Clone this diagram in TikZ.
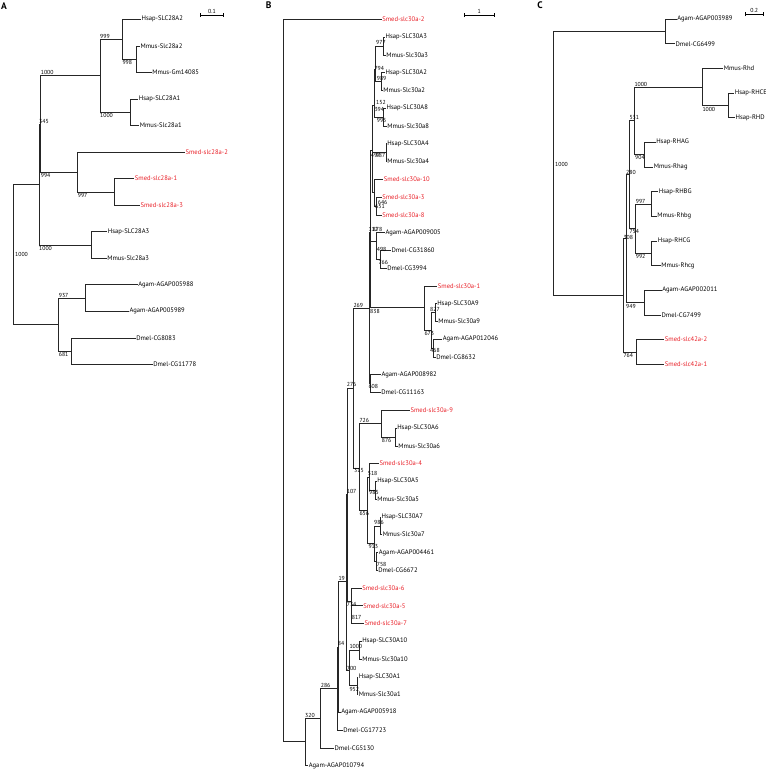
\documentclass[tikz,border=0pt]{standalone}
\usepackage{fontspec}
\setmainfont{PT Sans}
\usepackage{tikz}
\usetikzlibrary{arrows.meta}
\definecolor{smedred}{RGB}{232,30,38}

\begin{document}
\begin{tikzpicture}[
  x=1pt, y=-1pt,
  branch/.style={line width=0.55pt, draw=black!85},
  leaf/.style={anchor=west, inner sep=0.4pt, font=\fontsize{6.6}{7.5}\selectfont},
  smed/.style={leaf, text=smedred}, % Planarian genes in red
  boot/.style={anchor=west, inner sep=0pt, font=\fontsize{5.8}{6.5}\selectfont},
  panel/.style={font=\fontsize{9.5}{10}\selectfont\bfseries},
  scalebar/.style={line width=0.55pt, {Bar[width=4pt]}-{Bar[width=4pt]}}
]
  \useasboundingbox (0,0) rectangle (766,769);

  % ======================= PANEL A =======================
  \node[panel] (pA) at (4,6) {A};
  \coordinate (sbA1) at (200,15);
  \coordinate (sbA2) at (224,15);
  \draw[scalebar] (sbA1) -- (sbA2);
  \node[boot, anchor=south] (sbAt) at (212,13.5) {0.1};

  % --- internal nodes ---
  \coordinate (aRoot) at (13.7,254.4);
  \coordinate (aS) at (39,184.4);
  \coordinate (aQ) at (40.7,123.8);
  \coordinate (aP4) at (100,75.7);
  \coordinate (aP2) at (122.3,39.2);
  \coordinate (aP1) at (136.7,59.1);
  \coordinate (aP3) at (130,112.2);
  \coordinate (aT) at (77.7,171.9);
  \coordinate (aU) at (114.3,191.8);
  \coordinate (aV) at (91.7,244.9);
  \coordinate (aW) at (58.7,324.5);
  \coordinate (aX) at (85.3,298.0);
  \coordinate (aY) at (71.7,351.1);

  % --- leaves ---
  \node[leaf] (aHsapA2) at (141,19.3) {Hsap-SLC28A2};
  \node[leaf] (aMmusA2) at (140,45.8) {Mmus-Slc28a2};
  \node[leaf] (aMmusGm) at (151.7,72.4) {Mmus-Gm14085};
  \node[leaf] (aHsapA1) at (138.3,98.9) {Hsap-SLC28A1};
  \node[leaf] (aMmusA1) at (139.3,125.5) {Mmus-Slc28a1};
  \node[smed] (aSmed2) at (185,152.0) {Smed-slc28a-2};
  \node[smed] (aSmed1) at (134.3,178.5) {Smed-slc28a-1};
  \node[smed] (aSmed3) at (140,205.1) {Smed-slc28a-3};
  \node[leaf] (aHsapA3) at (107.3,231.6) {Hsap-SLC28A3};
  \node[leaf] (aMmusA3) at (106.7,258.2) {Mmus-Slc28a3};
  \node[leaf] (aAgam88) at (137.7,284.7) {Agam-AGAP005988};
  \node[leaf] (aAgam89) at (129,311.2) {Agam-AGAP005989};
  \node[leaf] (aDmel83) at (135.7,337.8) {Dmel-CG8083};
  \node[leaf] (aDmel78) at (152.7,364.3) {Dmel-CG11778};

  % --- branches ---
  \draw[branch] (aRoot) |- (aS) (aRoot) |- (aW);
  \draw[branch] (aS) |- (aQ) (aS) |- (aV);
  \draw[branch] (aQ) |- (aP4) (aQ) |- (aT);
  \draw[branch] (aP4) |- (aP2) (aP4) |- (aP3);
  \draw[branch] (aP2) |- (aHsapA2) (aP2) |- (aP1);
  \draw[branch] (aP1) |- (aMmusA2) (aP1) |- (aMmusGm);
  \draw[branch] (aP3) |- (aHsapA1) (aP3) |- (aMmusA1);
  \draw[branch] (aT) |- (aSmed2) (aT) |- (aU);
  \draw[branch] (aU) |- (aSmed1) (aU) |- (aSmed3);
  \draw[branch] (aV) |- (aHsapA3) (aV) |- (aMmusA3);
  \draw[branch] (aW) |- (aX) (aW) |- (aY);
  \draw[branch] (aX) |- (aAgam88) (aX) |- (aAgam89);
  \draw[branch] (aY) |- (aDmel83) (aY) |- (aDmel78);

  % --- bootstrap values ---
  \node[boot] (bsA1) at (15,254) {1000};
  \node[boot] (bsA2) at (39,121) {345};
  \node[boot] (bsA3) at (40.7,72.7) {1000};
  \node[boot] (bsA4) at (100,36) {999};
  \node[boot] (bsA5) at (122.3,62.7) {998};
  \node[boot] (bsA6) at (100,115.7) {1000};
  \node[boot] (bsA7) at (40.7,175.3) {994};
  \node[boot] (bsA8) at (77.7,195.7) {997};
  \node[boot] (bsA9) at (39,248.3) {1000};
  \node[boot] (bsA10) at (58.7,295.7) {937};
  \node[boot] (bsA11) at (58.7,354) {681};

  % ======================= PANEL B =======================
  \node[panel] (pB) at (268.7,5.5) {B};
  \coordinate (sbB1) at (464.3,15);
  \coordinate (sbB2) at (494.3,15);
  \draw[scalebar] (sbB1) -- (sbB2);
  \node[boot, anchor=south] (sbBt) at (479.3,13.5) {1};

  % --- internal nodes ---
  \coordinate (bRoot) at (283.3,380.5);
  \coordinate (bZ1) at (305,741.7);
  \coordinate (bZ2) at (320.7,718.3);
  \coordinate (bZ3) at (337.7,688.3);
  \coordinate (bZ4) at (338.5,647);
  \coordinate (bZ5) at (346.7,581);
  \coordinate (bZ6) at (347.2,494);
  \coordinate (bZ7) at (349.3,670);
  \coordinate (b276) at (353.5,388);
  \coordinate (b269) at (369.5,308.3);
  \coordinate (bXa) at (370.5,232.5);
  \coordinate (bTop) at (372.5,150);
  \coordinate (bB328) at (374.5,105);
  \coordinate (bB32) at (375.5,69);
  \coordinate (bA3) at (383.3,46);
  \coordinate (bA2) at (381,81.5);
  \coordinate (bA8) at (383.3,117);
  \coordinate (bA4) at (386,152.6);
  \coordinate (bC1) at (374.3,192);
  \coordinate (bS38) at (376.7,205.9);
  \coordinate (bD2) at (376,241);
  \coordinate (bD1) at (380,259.2);
  \coordinate (b838) at (424.3,307.7);
  \coordinate (b673) at (431,330);
  \coordinate (b827) at (435.7,312.5);
  \coordinate (b468) at (433.3,348);
  \coordinate (b608) at (370.5,383.6);
  \coordinate (b315) at (359.3,468.3);
  \coordinate (b726) at (381.7,423.3);
  \coordinate (b876) at (395.7,436.9);
  \coordinate (b656) at (367.5,510);
  \coordinate (b518) at (369,476.8);
  \coordinate (b985) at (375.7,490.2);
  \coordinate (b913) at (374.3,543.3);
  \coordinate (b986) at (380,525.8);
  \coordinate (b758) at (376,561.3);
  \coordinate (b734) at (351,601);
  \coordinate (b817) at (351.7,614.6);
  \coordinate (bN1000) at (359.3,650.2);
  \coordinate (bN952) at (357.3,685.7);

  % --- leaves ---
  \node[smed] (bSmed2) at (381.7,19.3) {Smed-slc30a-2};
  \node[leaf] (bHsapA3) at (385,37.1) {Hsap-SLC30A3};
  \node[leaf] (bMmusA3) at (385.7,54.8) {Mmus-Slc30a3};
  \node[leaf] (bHsapA2) at (385,72.6) {Hsap-SLC30A2};
  \node[leaf] (bMmusA2) at (382.7,90.4) {Mmus-Slc30a2};
  \node[leaf] (bHsapA8) at (386,108.1) {Hsap-SLC30A8};
  \node[leaf] (bMmusA8) at (386.7,125.9) {Mmus-Slc30a8};
  \node[leaf] (bHsapA4) at (386.7,143.7) {Hsap-SLC30A4};
  \node[leaf] (bMmusA4) at (386.7,161.5) {Mmus-Slc30a4};
  \node[smed] (bSmed10) at (383.3,179.2) {Smed-slc30a-10};
  \node[smed] (bSmed3) at (381.7,197.0) {Smed-slc30a-3};
  \node[smed] (bSmed8) at (381.7,214.8) {Smed-slc30a-8};
  \node[leaf] (bAgam05) at (385,232.5) {Agam-AGAP009005};
  \node[leaf] (bDmel60) at (391,250.3) {Dmel-CG31860};
  \node[leaf] (bDmel94) at (386.7,268.1) {Dmel-CG3994};
  \node[smed] (bSmed1) at (437.3,285.9) {Smed-slc30a-1};
  \node[leaf] (bHsapA9) at (436.7,303.6) {Hsap-SLC30A9};
  \node[leaf] (bMmusA9) at (437.7,321.4) {Mmus-Slc30a9};
  \node[leaf] (bAgam46) at (442.3,339.2) {Agam-AGAP012046};
  \node[leaf] (bDmel32) at (435.7,356.9) {Dmel-CG8632};
  \node[leaf] (bAgam82) at (381,374.7) {Agam-AGAP008982};
  \node[leaf] (bDmel63) at (380.7,392.5) {Dmel-CG11163};
  \node[smed] (bSmed9) at (410,410.2) {Smed-slc30a-9};
  \node[leaf] (bHsapA6) at (396.7,428.0) {Hsap-SLC30A6};
  \node[leaf] (bMmusA6) at (397.7,445.8) {Mmus-Slc30a6};
  \node[smed] (bSmed4) at (379,463.6) {Smed-slc30a-4};
  \node[leaf] (bHsapA5) at (376.7,481.3) {Hsap-SLC30A5};
  \node[leaf] (bMmusA5) at (376.7,499.1) {Mmus-Slc30a5};
  \node[leaf] (bHsapA7) at (381,516.9) {Hsap-SLC30A7};
  \node[leaf] (bMmusA7) at (382.3,534.6) {Mmus-Slc30a7};
  \node[leaf] (bAgam61) at (378.3,552.4) {Agam-AGAP004461};
  \node[leaf] (bDmel72) at (377.7,570.2) {Dmel-CG6672};
  \node[smed] (bSmed6) at (361.7,587.9) {Smed-slc30a-6};
  \node[smed] (bSmed5) at (362.7,605.7) {Smed-slc30a-5};
  \node[smed] (bSmed7) at (364,623.5) {Smed-slc30a-7};
  \node[leaf] (bHsapA10) at (361.7,641.3) {Hsap-SLC30A10};
  \node[leaf] (bMmusA10) at (361.7,659.0) {Mmus-Slc30a10};
  \node[leaf] (bHsapA1) at (358.3,676.8) {Hsap-SLC30A1};
  \node[leaf] (bMmusA1) at (358.3,694.6) {Mmus-Slc30a1};
  \node[leaf] (bAgam18) at (340.7,712.3) {Agam-AGAP005918};
  \node[leaf] (bDmel23) at (342.7,730.1) {Dmel-CG17723};
  \node[leaf] (bDmel30) at (334,747.9) {Dmel-CG5130};
  \node[leaf] (bAgam94) at (308.3,765.7) {Agam-AGAP010794};

  % --- branches ---
  \draw[branch] (bRoot) |- (bSmed2) (bRoot) |- (bZ1);
  \draw[branch] (bZ1) |- (bZ2) (bZ1) |- (bAgam94);
  \draw[branch] (bZ2) |- (bZ3) (bZ2) |- (bDmel30);
  \draw[branch] (bZ3) |- (bZ4) (bZ3) |- (bDmel23);
  \draw[branch] (bZ4) |- (bZ5) (bZ4) |- (bAgam18);
  \draw[branch] (bZ5) |- (bZ6) (bZ5) |- (bZ7);
  \draw[branch] (bZ6) |- (b276) (bZ6) |- (b734);
  \draw[branch] (b276) |- (b269) (b276) |- (b315);
  \draw[branch] (b269) |- (bXa) (b269) |- (b608);
  \draw[branch] (bXa) |- (bTop) (bXa) |- (bD2) (bXa) |- (b838);
  \draw[branch] (bTop) |- (bB328) (bTop) |- (bA4) (bTop) |- (bC1);
  \draw[branch] (bB328) |- (bB32) (bB328) |- (bA8);
  \draw[branch] (bB32) |- (bA3) (bB32) |- (bA2);
  \draw[branch] (bA3) |- (bHsapA3) (bA3) |- (bMmusA3);
  \draw[branch] (bA2) |- (bHsapA2) (bA2) |- (bMmusA2);
  \draw[branch] (bA8) |- (bHsapA8) (bA8) |- (bMmusA8);
  \draw[branch] (bA4) |- (bHsapA4) (bA4) |- (bMmusA4);
  \draw[branch] (bC1) |- (bSmed10) (bC1) |- (bS38);
  \draw[branch] (bS38) |- (bSmed3) (bS38) |- (bSmed8);
  \draw[branch] (bD2) |- (bAgam05) (bD2) |- (bD1);
  \draw[branch] (bD1) |- (bDmel60) (bD1) |- (bDmel94);
  \draw[branch] (b838) |- (bSmed1) (b838) |- (b673);
  \draw[branch] (b673) |- (b827) (b673) |- (b468);
  \draw[branch] (b827) |- (bHsapA9) (b827) |- (bMmusA9);
  \draw[branch] (b468) |- (bAgam46) (b468) |- (bDmel32);
  \draw[branch] (b608) |- (bAgam82) (b608) |- (bDmel63);
  \draw[branch] (b315) |- (b726) (b315) |- (b656);
  \draw[branch] (b726) |- (bSmed9) (b726) |- (b876);
  \draw[branch] (b876) |- (bHsapA6) (b876) |- (bMmusA6);
  \draw[branch] (b656) |- (b518) (b656) |- (b913);
  \draw[branch] (b518) |- (bSmed4) (b518) |- (b985);
  \draw[branch] (b985) |- (bHsapA5) (b985) |- (bMmusA5);
  \draw[branch] (b913) |- (b986) (b913) |- (b758);
  \draw[branch] (b986) |- (bHsapA7) (b986) |- (bMmusA7);
  \draw[branch] (b758) |- (bAgam61) (b758) |- (bDmel72);
  \draw[branch] (b734) |- (bSmed6) (b734) |- (b817);
  \draw[branch] (b817) |- (bSmed5) (b817) |- (bSmed7);
  \draw[branch] (bZ7) |- (bN1000) (bZ7) |- (bN952);
  \draw[branch] (bN1000) |- (bHsapA10) (bN1000) |- (bMmusA10);
  \draw[branch] (bN952) |- (bHsapA1) (bN952) |- (bMmusA1);

  % --- bootstrap values ---
  \node[boot] (bsB1) at (376,42.7) {977};
  \node[boot] (bsB2) at (374.3,68.5) {794};
  \node[boot] (bsB3) at (376.7,78.3) {989};
  \node[boot] (bsB4) at (376,102.7) {152};
  \node[boot] (bsB5) at (374.3,109) {394};
  \node[boot] (bsB6) at (376.7,120.7) {995};
  \node[boot] (bsB7) at (370.7,155) {497};
  \node[boot] (bsB8) at (375.5,155) {987};
  \node[boot] (bsB9) at (377.7,202) {646};
  \node[boot] (bsB10) at (375,206.5) {651};
  \node[boot] (bsB11) at (368.3,229.3) {112};
  \node[boot] (bsB12) at (372.5,229.3) {878};
  \node[boot] (bsB13) at (376.7,249) {498};
  \node[boot] (bsB14) at (378.3,262) {766};
  \node[boot] (bsB15) at (353.3,305.7) {269};
  \node[boot] (bsB16) at (370,311.7) {838};
  \node[boot] (bsB17) at (430,309.3) {827};
  \node[boot] (bsB18) at (424.3,333.3) {673};
  \node[boot] (bsB19) at (430,350.7) {468};
  \node[boot] (bsB20) at (368.3,386.7) {608};
  \node[boot] (bsB21) at (346.7,384.3) {276};
  \node[boot] (bsB22) at (359.3,420) {726};
  \node[boot] (bsB23) at (381.7,440) {876};
  \node[boot] (bsB24) at (354,470.5) {315};
  \node[boot] (bsB25) at (367.7,473.3) {518};
  \node[boot] (bsB26) at (369,492.7) {985};
  \node[boot] (bsB27) at (346.7,491.7) {107};
  \node[boot] (bsB28) at (359.3,513.3) {656};
  \node[boot] (bsB29) at (374,522.7) {986};
  \node[boot] (bsB30) at (368.3,546.7) {913};
  \node[boot] (bsB31) at (376.7,564) {758};
  \node[boot] (bsB32) at (338.3,578.3) {19};
  \node[boot] (bsB33) at (346.7,604) {734};
  \node[boot] (bsB34) at (351.7,617.3) {817};
  \node[boot] (bsB35) at (337.7,643.3) {84};
  \node[boot] (bsB36) at (349.3,646.7) {1000};
  \node[boot] (bsB37) at (346.7,668.5) {700};
  \node[boot] (bsB38) at (349.3,689) {952};
  \node[boot] (bsB39) at (320.7,685) {286};
  \node[boot] (bsB40) at (305,715) {320};

  % ======================= PANEL C =======================
  \node[panel] (pC) at (540,5.5) {C};
  \coordinate (sbC1) at (745,14);
  \coordinate (sbC2) at (763.3,14);
  \draw[scalebar] (sbC1) -- (sbC2);
  \node[boot, anchor=south] (sbCt) at (754.2,12.5) {0.2};

  % --- internal nodes ---
  \coordinate (cRoot) at (553.3,163.3);
  \coordinate (cA) at (665.7,31.3);
  \coordinate (cK) at (623.3,295.3);
  \coordinate (c308) at (626,238.6);
  \coordinate (c280) at (629.3,174.7);
  \coordinate (c531) at (634.3,120.7);
  \coordinate (c1000a) at (702.3,86.8);
  \coordinate (c1000b) at (728.3,105.3);
  \coordinate (c904) at (644,154.6);
  \coordinate (c754) at (635.7,228.6);
  \coordinate (c997) at (651.7,204);
  \coordinate (c992) at (651,253.3);
  \coordinate (c949) at (644,302.6);
  \coordinate (c764) at (636,352);

  % --- leaves ---
  \node[leaf] (cAgam89) at (676.7,19) {Agam-AGAP003989};
  \node[leaf] (cDmel99) at (675,43.7) {Dmel-CG6499};
  \node[leaf] (cMmusRhd) at (723.3,68.3) {Mmus-Rhd};
  \node[leaf] (cHsapRHCE) at (734.3,93) {Hsap-RHCE};
  \node[leaf] (cHsapRHD) at (735,117.6) {Hsap-RHD};
  \node[leaf] (cHsapRHAG) at (655.7,142.3) {Hsap-RHAG};
  \node[leaf] (cMmusRhag) at (653.3,167) {Mmus-Rhag};
  \node[leaf] (cHsapRHBG) at (658.3,191.6) {Hsap-RHBG};
  \node[leaf] (cMmusRhbg) at (656.7,216.3) {Mmus-Rhbg};
  \node[leaf] (cHsapRHCG) at (657.3,240.9) {Hsap-RHCG};
  \node[leaf] (cMmusRhcg) at (660.7,265.6) {Mmus-Rhcg};
  \node[leaf] (cAgam11) at (661.7,290.3) {Agam-AGAP002011};
  \node[leaf] (cDmel7499) at (661,314.9) {Dmel-CG7499};
  \node[smed] (cSmed2) at (664.3,339.6) {Smed-slc42a-2};
  \node[smed] (cSmed1) at (664.3,364.3) {Smed-slc42a-1};

  % --- branches ---
  \draw[branch] (cRoot) |- (cA) (cRoot) |- (cK);
  \draw[branch] (cA) |- (cAgam89) (cA) |- (cDmel99);
  \draw[branch] (cK) |- (c308) (cK) |- (c764);
  \draw[branch] (c308) |- (c280) (c308) |- (c949);
  \draw[branch] (c280) |- (c531) (c280) |- (c754);
  \draw[branch] (c531) |- (c1000a) (c531) |- (c904);
  \draw[branch] (c1000a) |- (cMmusRhd) (c1000a) |- (c1000b);
  \draw[branch] (c1000b) |- (cHsapRHCE) (c1000b) |- (cHsapRHD);
  \draw[branch] (c904) |- (cHsapRHAG) (c904) |- (cMmusRhag);
  \draw[branch] (c754) |- (c997) (c754) |- (c992);
  \draw[branch] (c997) |- (cHsapRHBG) (c997) |- (cMmusRhbg);
  \draw[branch] (c992) |- (cHsapRHCG) (c992) |- (cMmusRhcg);
  \draw[branch] (c949) |- (cAgam11) (c949) |- (cDmel7499);
  \draw[branch] (c764) |- (cSmed2) (c764) |- (cSmed1);

  % --- bootstrap values ---
  \node[boot] (bsC1) at (555,164) {1000};
  \node[boot] (bsC2) at (634.3,84) {1000};
  \node[boot] (bsC3) at (702.3,109) {1000};
  \node[boot] (bsC4) at (629.3,117.7) {531};
  \node[boot] (bsC5) at (635,157.3) {904};
  \node[boot] (bsC6) at (626,172.3) {280};
  \node[boot] (bsC7) at (635.7,201) {997};
  \node[boot] (bsC8) at (629.3,231.5) {754};
  \node[boot] (bsC9) at (635.7,256.7) {992};
  \node[boot] (bsC10) at (623.3,237.5) {308};
  \node[boot] (bsC11) at (626,306) {949};
  \node[boot] (bsC12) at (623.3,355) {764};

\end{tikzpicture}
\end{document}
